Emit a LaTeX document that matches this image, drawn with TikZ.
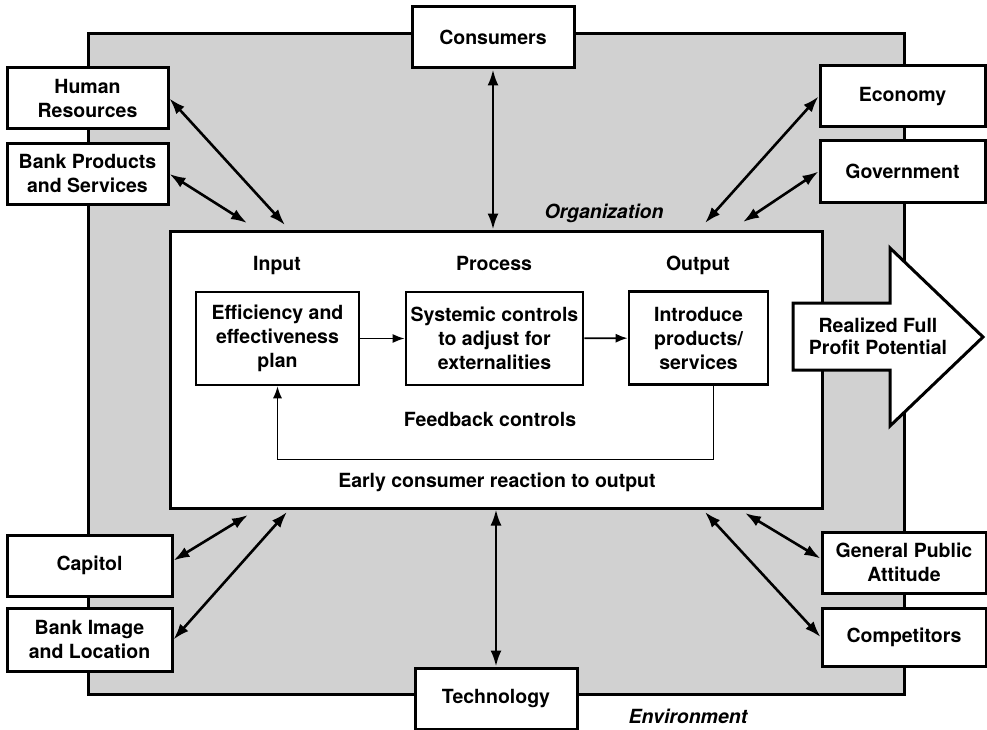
\documentclass[tikz,border=0pt]{standalone}
\usepackage{fontspec}
\setmainfont{TeX Gyre Heros}
\usetikzlibrary{arrows.meta}

\newcommand\dgmfont{\fontsize{19.5}{24}\selectfont\bfseries}

\tikzset{
  envbox/.style={draw, line width=3pt, fill=white, align=center, inner sep=0pt,
    minimum height=61pt, font=\dgmfont},
  stepbox/.style={draw, line width=2.6pt, fill=white, align=center, inner sep=0pt,
    minimum height=93pt, font=\dgmfont},
  caption/.style={font=\dgmfont, inner sep=1pt},
  link/.style={{Latex[length=16pt,width=11pt]}-{Latex[length=16pt,width=11pt]}, line width=2.6pt},
  flow/.style={-{Latex[length=12pt,width=9pt]}, line width=1.8pt},
  feedback/.style={-{Latex[length=12pt,width=9pt]}, line width=1.3pt}
}

\begin{document}
\begin{tikzpicture}[x=1pt,y=-1pt]
  \useasboundingbox (0,0) rectangle (987,730);

  %Environment
  \draw[line width=3pt, fill=black!18] (88,34) rectangle (904,694);
  \node[caption, font=\dgmfont\itshape] (envlabel) at (688,716) {Environment};

  %Organization
  \node[draw, line width=3pt, fill=white, minimum width=652, minimum height=277, inner sep=0pt] (org) at (496,369.5) {};
  \node[caption, font=\dgmfont\itshape] (orglabel) at (604,213) {Organization};

  \node[caption, anchor=base] (inlabel) at (277,270) {Input};
  \node[caption, anchor=base] (proclabel) at (494,270) {Process};
  \node[caption, anchor=base] (outlabel) at (698,270) {Output};

  \node[stepbox, minimum width=163] (plan) at (277.5,338.5) {Efficiency and\\effectiveness\\plan};
  \node[stepbox, minimum width=177] (adjust) at (494.5,338.5) {Systemic controls\\to adjust for\\externalities};
  \node[stepbox, minimum width=139] (introduce) at (698.5,338) {Introduce\\products/\\services};

  \draw[flow] (plan) -- (adjust);
  \draw[flow] (adjust) -- (introduce);
  \draw[feedback] ([xshift=15pt]introduce.south) -- ++(0,73.5) -| (plan.south);

  \node[caption] (fblabel) at (490,419) {Feedback controls};
  \node[caption] (earlylabel) at (497,482) {Early consumer reaction to output};

  %Profit arrow
  \draw[line width=3pt, fill=white, line join=miter] (793,303) -- (890,303) -- (890,248) -- (983,337)
    -- (890,426) -- (890,370) -- (793,370) -- cycle;
  \node[caption, align=center, font=\fontsize{19.5}{22}\selectfont\bfseries] (profit) at (878,336) {Realized Full\\Profit Potential};

  %outside factors
  \node[envbox, minimum width=162] (consumers) at (493,37.5) {Consumers};
  \node[envbox, minimum width=161] (human) at (87.5,98.5) {Human\\Resources};
  \node[envbox, minimum width=161] (bankprod) at (87.5,174) {Bank Products\\and Services};
  \node[envbox, minimum width=165] (economy) at (902.5,96.5) {Economy};
  \node[envbox, minimum width=165] (government) at (902.5,171.5) {Government};
  \node[envbox, minimum width=165] (capitol) at (89.5,565.5) {Capitol};
  \node[envbox, minimum width=165, minimum height=63] (bankimage) at (89.5,639.5) {Bank Image\\and Location};
  \node[envbox, minimum width=164] (publicatt) at (904,562.5) {General Public\\Attitude};
  \node[envbox, minimum width=164, minimum height=58] (competitors) at (904,637) {Competitors};
  \node[envbox, minimum width=162] (technology) at (496,698.5) {Technology};

  \coordinate (hrend) at (285,225);
  \coordinate (bpend) at (247,223);
  \coordinate (ecend) at (705,223);
  \coordinate (goend) at (743,222);
  \coordinate (caend) at (248,515);
  \coordinate (biend) at (287,512);
  \coordinate (paend) at (745,513);
  \coordinate (coend) at (705,512);

  \draw[link] (human.east) -- (hrend);
  \draw[link] (bankprod.east) -- (bpend);
  \draw[link] (economy.west) -- (ecend);
  \draw[link] (government.west) -- (goend);
  \draw[link] ([yshift=5pt]capitol.east) -- (caend);
  \draw[link] (bankimage.east) -- (biend);
  \draw[link] ([yshift=4pt]publicatt.west) -- (paend);
  \draw[link] (competitors.west) -- (coend);
  \draw[link] (consumers.south) -- (consumers.south |- org.north);
  \draw[link] (technology.north) -- (technology.north |- org.south);

\end{tikzpicture}
\end{document}
